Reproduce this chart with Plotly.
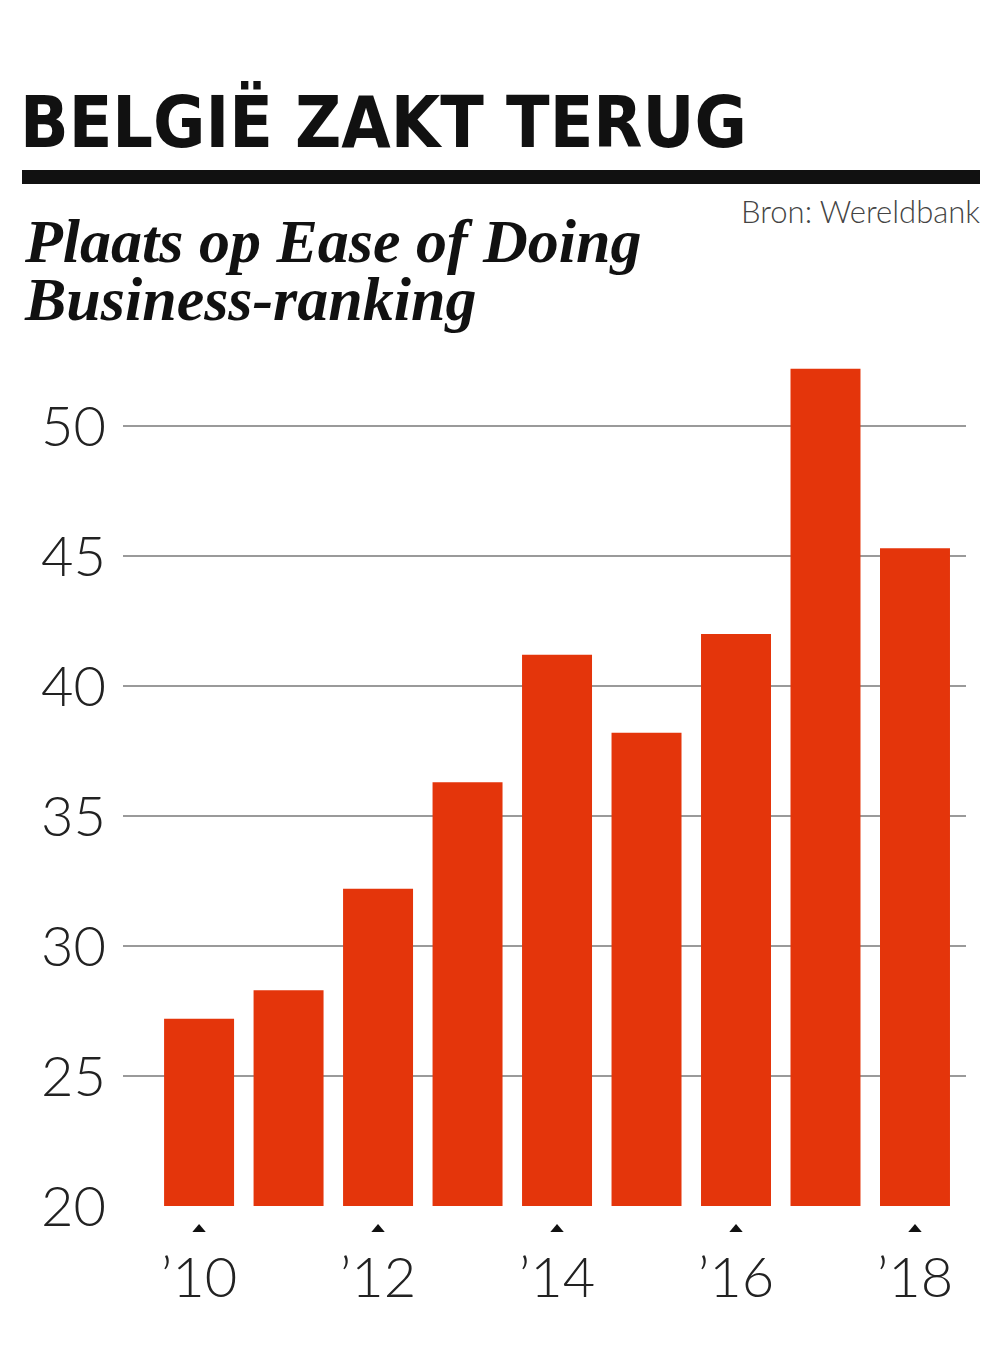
import plotly.graph_objects as go

years = [2010, 2011, 2012, 2013, 2014, 2015, 2016, 2017, 2018]
ranking = [27.2, 28.3, 32.2, 36.3, 41.2, 38.2, 42.0, 52.2, 45.3]
tick_years = [2010, 2012, 2014, 2016, 2018]
tick_text = ["\u201910", "\u201912", "\u201914", "\u201916", "\u201918"]
y_ticks = [20, 25, 30, 35, 40, 45, 50]

BAR = "#e4350b"
num_font = dict(family="Lato, Open Sans, sans-serif", size=56, color="#222222", weight=300)
sub_font = dict(family="Liberation Serif, Times New Roman, serif", size=62, color="#111111")

fig = go.Figure()
fig.add_trace(go.Bar(x=years, y=ranking, marker=dict(color=BAR, line=dict(width=0)),
                     hoverinfo="x+y"))

annotations = [
    dict(text="<b>BELGIË ZAKT TERUG</b>", xref="paper", yref="paper",
         x=18 / 1000, y=1 - 79 / 1360, xanchor="left", yanchor="top", showarrow=False,
         font=dict(family="Liberation Sans Narrow, DejaVu Sans Condensed, Liberation Sans, sans-serif",
                   size=71, color="#111111")),
    dict(text="Bron: Wereldbank", xref="paper", yref="paper",
         x=982 / 1000, y=1 - 190 / 1360, xanchor="right", yanchor="top", showarrow=False,
         font=dict(family="Lato, Open Sans, sans-serif", size=31, color="#444444", weight=300)),
    dict(text="<b><i>Plaats op Ease of Doing</i></b>", xref="paper", yref="paper",
         x=22 / 1000, y=1 - 277 / 1360, xanchor="left", yanchor="bottom", align="left",
         showarrow=False, font=sub_font),
    dict(text="<b><i>Business-ranking</i></b>", xref="paper", yref="paper",
         x=22 / 1000, y=1 - 335 / 1360, xanchor="left", yanchor="bottom", align="left",
         showarrow=False, font=sub_font),
]

shapes = [dict(type="rect", xref="paper", yref="paper",
               x0=22 / 1000, x1=980 / 1000, y0=1 - 184 / 1360, y1=1 - 170 / 1360,
               fillcolor="#111111", line=dict(width=0))]
# small triangle markers under labelled years
for yr in tick_years:
    shapes.append(dict(type="path", xref="x", yref="paper",
                       path=f"M {yr - 0.075},{1 - 1232 / 1360} L {yr + 0.075},{1 - 1232 / 1360} "
                            f"L {yr},{1 - 1224 / 1360} Z",
                       fillcolor="#111111", line=dict(width=0)))

fig.update_layout(
    width=1000, height=1360,
    margin=dict(l=0, r=0, t=0, b=0, autoexpand=False),
    paper_bgcolor="white", plot_bgcolor="white",
    showlegend=False, bargap=0.218,
    xaxis=dict(domain=[0.123, 0.966], range=[2009.15, 2018.57], automargin=False,
               tickvals=tick_years, ticktext=tick_text, showgrid=False,
               zeroline=False, showline=False, ticks="",
               tickfont=num_font, ticklabelstandoff=34),
    yaxis=dict(domain=[1 - 1206 / 1360, 1 - 361 / 1360], range=[20, 52.5], automargin=False,
               tickvals=y_ticks, showgrid=True, gridcolor="#9a9a9a", gridwidth=2,
               zeroline=False, showline=False, ticks="",
               tickfont=num_font, ticklabelstandoff=16),
    shapes=shapes,
    annotations=annotations,
)

fig.write_html("out.html", config={"displayModeBar": False},
               post_script="document.body.style.margin='0px';")
